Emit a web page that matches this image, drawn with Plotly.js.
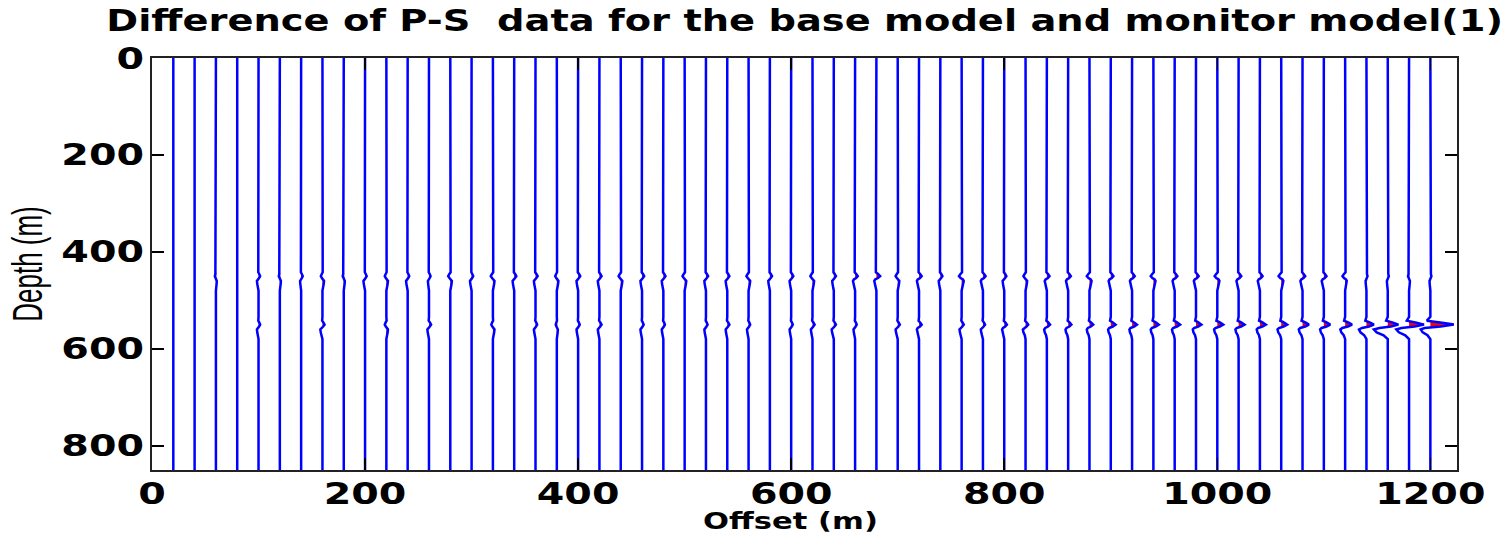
<!DOCTYPE html>
<html><head><meta charset="utf-8">
<script src="https://cdn.plot.ly/plotly-3.0.1.min.js"></script>
<style>
html,body{margin:0;padding:0;background:#fff}
#chart{width:1507px;height:535px}
</style>
</head><body><div id="chart"></div>
<script>
// Trace offsets (m)
const offsets = [20,40,60,80,100,120,140,160,180,200,220,240,260,280,300,320,340,360,380,400,
  420,440,460,480,500,520,540,560,580,600,620,640,660,680,700,720,740,760,780,800,
  820,840,860,880,900,920,940,960,980,1000,1020,1040,1060,1080,1100,1120,1140,1160,1180,1200];
// Depths of the two difference events (m)
const eventDepths = [450, 550];
// Wavelet lobe shapes, sampled at depth shifts from the event (m)
const lobeDz      = [-16, -8, -4, 0, 4, 7, 10, 16, 22, 30];
const peakShape   = [0, -0.15, 0.5, 1, 0.5, 0, 0, 0, 0, 0];
const troughShape = [0, 0, 0, 0, 0.15, 0.6, 1, 0.8, 0.3, 0];
// Amplitudes (in offset metres) of the peak and trough lobes, per trace
const peak450 = [0,0,-1,0,1.5,-1,1.5,-1.5,-1,1.5,-1.5,1.5,1.5,-2,1.5,-2,2,2,-1.5,2,
  2,-2,2,2,-2,2,2,-2,2,2,-2,2,2.5,3.5,-2,2.5,2,-2.5,2.5,2,
  -2,2.5,2.5,-2.5,2.5,2.5,-2.5,2.5,2.5,-2.5,2.5,2.5,-2.5,2.5,2.5,-2.5,1,1,-1,1];
const trough450 = [0,0,0.8,0,-1.5,1,-1,1.5,1,-1.5,1.5,-1.5,-1,1.5,-1.5,1.5,-1.5,-1.5,1.5,-1.5,
  -1.5,1.5,-1.5,-1.5,1.5,-1.5,-1.5,1.5,-1.5,-1.5,1.5,-1.5,-2,-2,1.5,-2,-1.5,2,-2,-1.5,
  1.5,-2,-2,2,-2,-2,2,-2,-2,2,-2,-2,2,-2,-2,1.5,-0.8,-0.8,0.8,-0.8];
const peak550 = [0,0,0,0,1.5,0,0,2,0,0,-1.5,0,2,0,0,-1.5,0,1.5,-1,1.5,
  2,0,1.5,1.5,0,1.5,2,1.5,0,1.5,2,2,1.5,0,2,2.5,0,2,2,2.5,
  2.5,3,3,3.5,4.5,4.5,5,5,5,5.5,5.5,5.5,5.5,6,6,6.5,7,10,14,22];
const trough550 = [0,0,0,0,-1.5,0,0,-2,0,0,1.5,0,-1.5,0,0,1.5,0,-1.5,1,-1.5,
  -1.5,0,-1.5,-1.5,0,-1.5,-1.5,-1.5,0,-1.5,-1.5,-2,-1.5,0,-2,-2,0,-2,-2,-2,
  -2.5,-2.5,-2.5,-2.5,-2.5,-2.5,-2.5,-2.5,-3,-3,-3,-3,-3.5,-3.5,-3.5,-4.5,-7,-13,-12,-9];
const depthMax = 850;
const xTicks = [0,200,400,600,800,1000,1200];
const yTicks = [0,200,400,600,800];

const peaks = [peak450, peak550];
const troughs = [trough450, trough550];

const lx = [], ly = [], fx = [], fy = [];
offsets.forEach((off, i) => {
  lx.push(off); ly.push(0);
  eventDepths.forEach((ev, e) => {
    const p = peaks[e][i], t = troughs[e][i];
    const seg = lobeDz.map((dz, k) => [off + p * peakShape[k] + t * troughShape[k], ev + dz]);
    seg.forEach(([x, y]) => { lx.push(x); ly.push(y); });
    if (seg.some(([x]) => x > off + 0.01)) {
      seg.forEach(([x, y]) => { fx.push(Math.max(off, x)); fy.push(y); });
      fx.push(null); fy.push(null);
    }
  });
  lx.push(off); ly.push(depthMax);
  lx.push(null); ly.push(null);
});

const data = [
  {type:'scatter', mode:'lines', x:fx, y:fy, fill:'toself', fillcolor:'#ff0000',
   line:{width:0, color:'#ff0000'}, hoverinfo:'skip'},
  {type:'scatter', mode:'lines', x:lx, y:ly, line:{color:'#0000ff', width:2.5},
   hoverinfo:'skip'}
];

const tickFont = {family:'DejaVu Sans', size:30, weight:700, color:'#000'};
const layout = {
  width:1507, height:535,
  margin:{l:152, r:50, t:58, b:65},
  paper_bgcolor:'#fff', plot_bgcolor:'#fff',
  showlegend:false,
  title:{text:'Difference of P-S  data for the base model and monitor model(1)',
    font:{family:'DejaVu Sans', size:30, weight:700, color:'#000'},
    x:0.534, xanchor:'center', xref:'container', y:0.962, yanchor:'middle', yref:'container'},
  xaxis:{range:[0,1225], tickvals:xTicks, ticktext:xTicks.map(String), ticks:'inside', ticklen:12,
    tickcolor:'#000', tickwidth:1.5, showline:true, linecolor:'#222', linewidth:2, mirror:'ticks',
    showgrid:false, zeroline:false, tickfont:tickFont,
    title:{text:'Offset (m)', font:{family:'DejaVu Sans', size:23, weight:700, color:'#000'}, standoff:2}},
  yaxis:{range:[depthMax,0], tickvals:yTicks, ticktext:yTicks.map(String), ticks:'inside', ticklen:12,
    tickcolor:'#000', tickwidth:1.5, showline:true, linecolor:'#222', linewidth:2, mirror:'ticks',
    showgrid:false, zeroline:false, tickfont:tickFont,
    title:{text:'Depth (m)', font:{family:'Liberation Sans', size:26, color:'#000'}, standoff:37}}
};

// Stretch text (the reference's lettering is wide) about its anchor point, then nudge it.
function stretch(el, sx, sy, dy, tx, ty) {
  const px = parseFloat(el.getAttribute('x')) || 0;
  const py = (parseFloat(el.getAttribute('y')) || 0) + (dy || 0);
  const t = el.getAttribute('transform') || '';
  el.setAttribute('transform',
    `translate(${tx || 0},${ty || 0}) ${t} translate(${px},${py}) scale(${sx},${sy}) translate(${-px},${-py})`);
}
Plotly.newPlot('chart', data, layout, {displayModeBar:false, staticPlot:true}).then(gd => {
  gd.querySelectorAll('.xtick text').forEach(el => stretch(el, 1.32, 1, 0, 0, -4));
  gd.querySelectorAll('.ytick text').forEach(el => stretch(el, 1.32, 1));
  gd.querySelectorAll('.gtitle').forEach(el => stretch(el, 1.28, 1));
  gd.querySelectorAll('.xtitle').forEach(el => stretch(el, 1.33, 1, 0, -14, -1));
  gd.querySelectorAll('.ytitle').forEach(el => stretch(el, 1, 1.6, -9));
});
</script></body></html>
